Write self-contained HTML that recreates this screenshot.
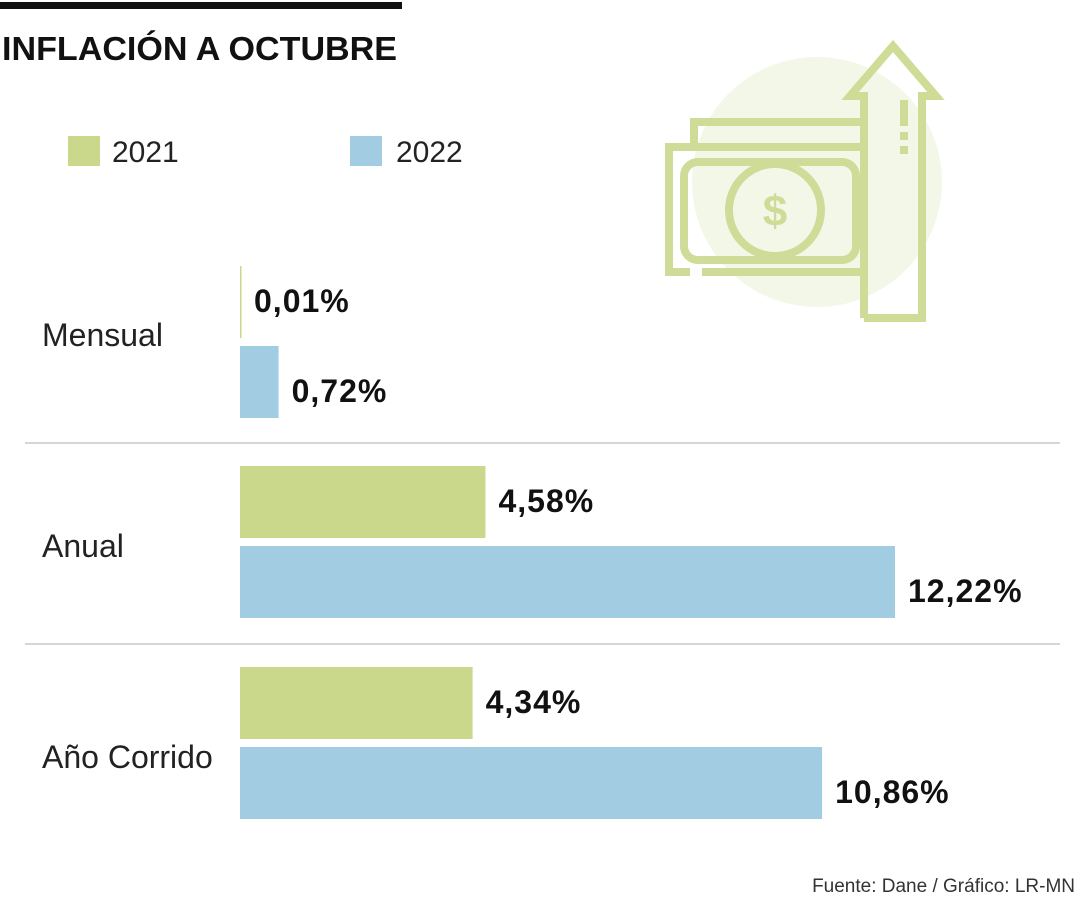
<!DOCTYPE html>
<html><head><meta charset="utf-8"><style>
body{margin:0;background:#fff;}
svg{display:block;font-family:"Liberation Sans",sans-serif;}
</style></head><body>
<svg width="1080" height="900" viewBox="0 0 1080 900">
<rect x="0" y="2" width="402" height="7" fill="#111"/>
<text x="2" y="60" font-size="33" font-weight="bold" fill="#111" textLength="395" lengthAdjust="spacingAndGlyphs">INFLACIÓN A OCTUBRE</text>
<g>
<rect x="68" y="136" width="32" height="30" fill="#cad88c"/>
<text x="112" y="162" font-size="30" fill="#222">2021</text>
<rect x="350" y="136" width="32" height="30" fill="#a2cce2"/>
<text x="396" y="162" font-size="30" fill="#222">2022</text>
</g>
<g fill="none" stroke="#cfdc98" stroke-width="8">
<circle cx="817" cy="182" r="125" fill="#f3f7e8" stroke="none"/>
<polyline points="694,143 694,122 860,122"/>
<polyline points="860,147 669,147 669,272 690,272"/>
<line x1="702" y1="272" x2="860" y2="272"/>
<rect x="684" y="162" width="172" height="98" rx="14"/>
<circle cx="775" cy="210" r="46"/>
<text x="775" y="226" font-size="44" font-weight="bold" fill="#cfdc98" stroke="none" text-anchor="middle">$</text>
<polyline points="864,318 864,96 850,96 893,46 936,96 922,96 922,318 864,318"/>
<line x1="904" y1="100" x2="904" y2="126"/>
<line x1="904" y1="132" x2="904" y2="140"/>
<line x1="904" y1="146" x2="904" y2="154"/>
</g>
<g stroke="#c8c8c8" stroke-width="1.5">
<line x1="25" y1="443" x2="1060" y2="443"/>
<line x1="25" y1="644" x2="1060" y2="644"/>
</g>
<g id="bars"></g>
<text x="1075" y="892" font-size="19" fill="#333" text-anchor="end">Fuente: Dane / Gráfico: LR-MN</text>
</svg>
<script>
const categories=["Mensual","Anual","Año Corrido"];
const values2021=[0.01,4.58,4.34];
const values2022=[0.72,12.22,10.86];
const labels2021=["0,01%","4,58%","4,34%"];
const labels2022=["0,72%","12,22%","10,86%"];
const x0=240,scale=53.6,barH=72;
const groupTop=[266,466,667];
const catLabelShift=[0,11,21];
const xs=v=>x0+v*scale;
const g=document.getElementById('bars');
const NS="http://www.w3.org/2000/svg";
categories.forEach((c,i)=>{
  const t=document.createElementNS(NS,'text');
  t.setAttribute('x',42);t.setAttribute('y',groupTop[i]+80+catLabelShift[i]);
  t.setAttribute('font-size','32');t.setAttribute('fill','#222');
  t.textContent=c;
  
  
  g.appendChild(t);
  [[values2021,labels2021,'#cad88c',0,'2021'],[values2022,labels2022,'#a2cce2',80,'2022']].forEach(s=>{
    const v=s[0][i],y=groupTop[i]+s[3];
    const r=document.createElementNS(NS,'rect');
    r.setAttribute('x',x0);r.setAttribute('y',y);
    r.setAttribute('width',Math.max(xs(v)-x0,1.5));r.setAttribute('height',barH);
    r.setAttribute('fill',s[2]);
    
    
    g.appendChild(r);
    const l=document.createElementNS(NS,'text');
    l.setAttribute('x',Math.max(xs(v),x0+1)+13);l.setAttribute('y',y+s[3]/80*10+46);
    l.setAttribute('font-size','32');l.setAttribute('font-weight','bold');l.setAttribute('fill','#111');
    l.setAttribute('letter-spacing','1');
    l.textContent=s[1][i];
    
    
    g.appendChild(l);
  });
});
</script>
</body></html>
